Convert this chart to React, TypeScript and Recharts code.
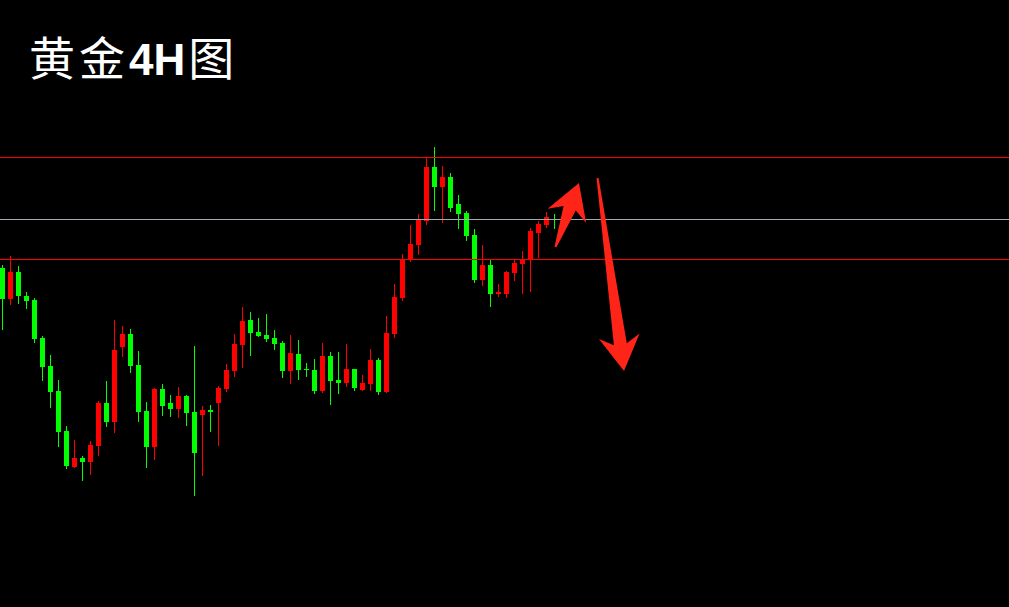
import { ComposedChart, Bar, XAxis, YAxis, ReferenceLine } from "recharts"

// Gold 4H candles, oldest first
const opens = [
  2332, 2301, 2328, 2304, 2300, 2262, 2234, 2209, 2169, 2133,
  2142, 2138, 2154, 2197, 2178, 2253, 2266, 2235, 2189, 2153,
  2211, 2197, 2191, 2204, 2188, 2185, 2190, 2197, 2211, 2229,
  2255, 2280, 2268, 2265, 2262, 2257, 2229, 2246, 2231, 2230,
  2209, 2244, 2220, 2217, 2231, 2210, 2216, 2240, 2208, 2266,
  2302, 2340, 2355, 2379, 2433, 2413, 2423, 2396, 2387, 2365,
  2320, 2335, 2306, 2306, 2327, 2336, 2341, 2367, 2375, 2381,
]
const highs = [
  2335, 2344, 2334, 2308, 2302, 2264, 2245, 2220, 2174, 2160,
  2144, 2159, 2199, 2219, 2280, 2274, 2271, 2249, 2198, 2212,
  2216, 2205, 2213, 2205, 2254, 2194, 2195, 2214, 2236, 2266,
  2293, 2288, 2282, 2286, 2270, 2259, 2265, 2260, 2237, 2241,
  2257, 2248, 2248, 2256, 2231, 2225, 2251, 2242, 2284, 2316,
  2346, 2375, 2386, 2443, 2453, 2434, 2427, 2405, 2389, 2371,
  2355, 2340, 2316, 2329, 2341, 2349, 2372, 2379, 2388, 2386,
]
const lows = [
  2270, 2295, 2296, 2291, 2257, 2219, 2192, 2153, 2131, 2132,
  2119, 2125, 2144, 2173, 2167, 2243, 2227, 2178, 2132, 2140,
  2184, 2183, 2182, 2174, 2104, 2124, 2168, 2154, 2208, 2223,
  2232, 2244, 2263, 2258, 2250, 2222, 2216, 2220, 2223, 2206,
  2207, 2195, 2206, 2213, 2209, 2209, 2209, 2205, 2207, 2262,
  2299, 2338, 2345, 2375, 2389, 2377, 2388, 2371, 2359, 2317,
  2314, 2293, 2303, 2302, 2319, 2306, 2308, 2342, 2372, 2371,
]
const closes = [
  2301, 2328, 2304, 2299, 2261, 2233, 2208, 2168, 2134, 2142,
  2138, 2155, 2197, 2178, 2250, 2266, 2234, 2188, 2153, 2211,
  2194, 2191, 2204, 2187, 2147, 2190, 2188, 2212, 2230, 2256,
  2279, 2267, 2264, 2261, 2256, 2229, 2247, 2230, 2230, 2209,
  2244, 2219, 2217, 2231, 2212, 2217, 2240, 2208, 2267, 2303,
  2341, 2356, 2380, 2433, 2413, 2423, 2392, 2386, 2364, 2320,
  2335, 2306, 2308, 2328, 2337, 2341, 2369, 2376, 2383, 2380,
]

// support / resistance levels
const redLevels = [2443, 2341]
const grayLevels = [2381]

// hand-drawn arrows: [bar index, price] from tail to tip
const arrowUp = [
  [69.12, 2353],
  [72.06, 2417],
]
const arrowDown = [
  [74.38, 2422],
  [77.69, 2229],
]

const UP = "#ff0000"
const DOWN = "#00ff00"
const ARROW = "#ff2418"

const candles = opens.map((open, i) => ({
  i,
  open,
  high: highs[i],
  low: lows[i],
  close: closes[i],
}))

function Candle(props: any) {
  const { x, y, width, height, payload } = props
  if (x == null || y == null) return null
  const top = Math.min(y, y + height)
  const h = Math.abs(height)
  const { open, high, low, close } = payload
  const k = h / (high - low)
  const cx = x + width / 2
  const color = close >= open ? UP : DOWN
  const bodyTop = top + (high - Math.max(open, close)) * k
  const bodyH = Math.max(Math.abs(close - open) * k, 1)
  return (
    <g shapeRendering="crispEdges">
      <rect x={Math.round(cx - 0.5)} y={top} width={1} height={h} fill={color} />
      <rect x={Math.round(cx - 2.5)} y={bodyTop} width={5} height={bodyH} fill={color} />
    </g>
  )
}

// arrow polygon between the segment's two ends (tail -> tip)
function Arrow(props: any) {
  const { x1, y1, x2, y2 } = props
  if (x1 == null) return null
  const dx = x2 - x1
  const dy = y2 - y1
  const len = Math.hypot(dx, dy)
  const ux = dx / len
  const uy = dy / len
  const nx = -uy
  const ny = ux
  const pt = (u: number, v: number) => `${x1 + ux * u + nx * v},${y1 + uy * u + ny * v}`
  const pts = [
    pt(0, 1),
    pt(len - 27, 6.5),
    pt(len - 35, 20.5),
    pt(len, 0),
    pt(len - 35, -20.5),
    pt(len - 27, -6.5),
    pt(0, -1),
  ]
  return <polygon points={pts.join(" ")} fill={ARROW} />
}

const cjk = { fontFamily: "'Noto Sans CJK SC'", letterSpacing: 4 }

export default function App() {
  return (
    <div
      style={{
        position: "fixed",
        left: 0,
        top: 0,
        width: 1009,
        height: 607,
        background: "#000",
        overflow: "hidden",
      }}
    >
      <ComposedChart width={1009} height={607} data={candles} margin={{ top: 0, right: 0, bottom: 0, left: 0 }}>
        <XAxis dataKey="i" type="number" domain={[-0.3125, 125.8125]} allowDataOverflow hide />
        <YAxis type="number" domain={[1993, 2600]} allowDataOverflow hide />
        {redLevels.map((v) => (
          <ReferenceLine key={v} y={v - 0.5} stroke="#ff0000" strokeWidth={1} shapeRendering="crispEdges" />
        ))}
        {grayLevels.map((v) => (
          <ReferenceLine key={v} y={v - 0.5} stroke="#a0a8b2" strokeWidth={1} shapeRendering="crispEdges" />
        ))}
        <Bar
          dataKey={(d: any) => [d.low, d.high]}
          barSize={5}
          shape={Candle}
          isAnimationActive={false}
        />
        <ReferenceLine
          segment={arrowUp.map(([x, y]) => ({ x, y }))}
          shape={Arrow}
        />
        <ReferenceLine
          segment={arrowDown.map(([x, y]) => ({ x, y }))}
          shape={Arrow}
        />
      </ComposedChart>
      <div
        style={{
          position: "absolute",
          left: 29,
          top: 29,
          color: "#fff",
          fontSize: 46,
          lineHeight: "52px",
          whiteSpace: "nowrap",
        }}
      >
        <span style={cjk}>黄金</span>
        <span style={{ fontFamily: "'Liberation Sans', Arial", fontWeight: 700, fontSize: 44 }}>4H</span>
        <span style={{ ...cjk, marginLeft: 3 }}>图</span>
      </div>
    </div>
  )
}
